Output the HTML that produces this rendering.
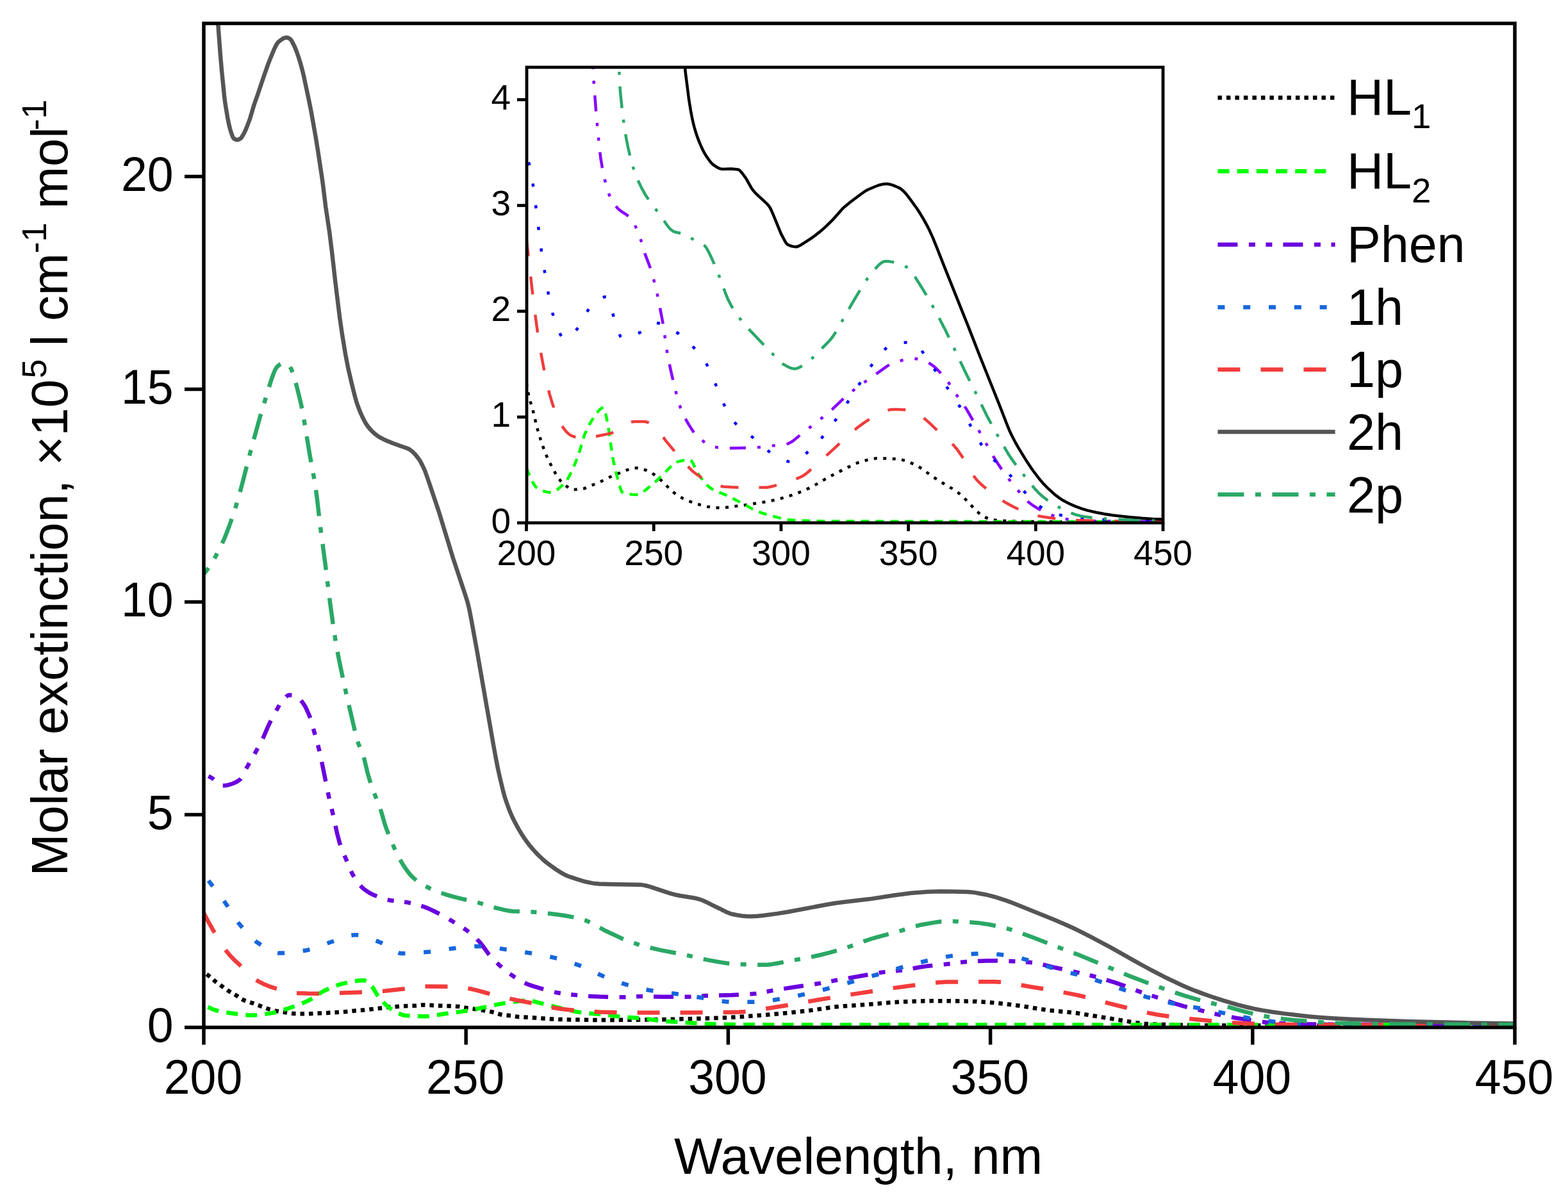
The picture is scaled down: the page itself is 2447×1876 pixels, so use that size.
<!DOCTYPE html>
<html><head><meta charset="utf-8"><title>Molar extinction spectra</title><style>html,body{margin:0;padding:0;background:#fff;}svg{display:block;}</style></head><body>
<svg width="2447" height="1876" viewBox="0 0 2447 1876">
<rect width="2447" height="1876" fill="#ffffff"/>
<defs><clipPath id="cm"><rect x="318" y="36.5" width="2046" height="1567.0"/></clipPath><clipPath id="ci"><rect x="822" y="105" width="993" height="711"/></clipPath></defs>
<g clip-path="url(#cm)" fill="none" stroke-linejoin="round">
<path d="M318.0,1517.0 L325.2,1522.5 L336.0,1531.8 L355.0,1545.4 L359.8,1548.5 L369.8,1554.2 L377.0,1559.1 L380.2,1560.9 L384.2,1562.4 L395.2,1565.9 L416.5,1574.0 L424.0,1576.2 L430.0,1577.7 L435.8,1578.7 L453.8,1581.5 L459.2,1582.0 L471.8,1582.3 L481.5,1582.2 L509.8,1580.9 L524.8,1580.1 L539.5,1579.0 L554.0,1577.5 L569.0,1576.3 L609.5,1571.6 L628.2,1570.4 L649.2,1569.5 L658.8,1568.6 L663.2,1568.5 L687.0,1569.7 L705.5,1570.2 L716.8,1571.1 L729.2,1573.3 L744.0,1575.2 L766.8,1579.2 L771.8,1580.3 L781.0,1583.3 L784.8,1584.0 L797.2,1585.2 L809.5,1587.1 L829.5,1588.1 L861.0,1590.4 L871.8,1590.9 L889.8,1591.4 L931.5,1592.0 L980.5,1591.8 L1033.0,1591.2 L1106.5,1589.3 L1133.0,1588.3 L1151.5,1587.3 L1199.2,1583.6 L1233.8,1580.4 L1264.2,1577.0 L1301.2,1571.7 L1317.5,1570.2 L1352.2,1567.9 L1388.2,1564.8 L1404.0,1563.8 L1428.8,1562.8 L1445.5,1562.3 L1458.5,1562.1 L1480.0,1562.2 L1512.8,1562.7 L1523.8,1563.1 L1544.8,1564.5 L1567.0,1566.6 L1597.2,1570.5 L1623.5,1574.9 L1633.2,1576.3 L1644.2,1577.6 L1670.0,1580.0 L1683.0,1581.6 L1775.5,1596.6 L1786.2,1597.7 L1803.5,1598.7 L1851.2,1600.0 L1893.5,1600.5 L2364.0,1600.5" stroke="#000000" stroke-width="6.5" stroke-dasharray="6.5 7" stroke-dashoffset="7.75"/>
<path d="M318.0,1569.0 L325.2,1572.0 L333.0,1575.6 L335.5,1576.4 L339.5,1577.5 L346.0,1578.9 L353.0,1580.2 L377.8,1583.6 L388.0,1584.5 L397.2,1584.5 L407.8,1583.5 L422.8,1581.4 L430.8,1579.7 L440.5,1576.9 L460.0,1570.4 L473.0,1565.4 L480.5,1562.0 L484.5,1559.9 L489.0,1557.1 L500.0,1549.7 L505.5,1546.5 L515.8,1541.8 L525.0,1538.2 L534.2,1535.4 L550.0,1531.9 L559.2,1530.5 L567.2,1530.0 L569.5,1530.4 L571.8,1531.4 L575.0,1533.5 L578.0,1535.9 L580.8,1539.5 L587.0,1550.2 L589.5,1553.9 L595.8,1561.3 L600.5,1566.5 L604.8,1570.6 L608.8,1573.8 L614.8,1577.5 L620.0,1580.4 L624.2,1582.4 L628.2,1584.0 L631.0,1584.7 L633.8,1585.1 L647.8,1585.9 L665.0,1586.2 L669.8,1585.9 L675.2,1585.3 L693.5,1582.3 L718.0,1579.1 L731.2,1577.0 L759.2,1571.5 L778.5,1567.2 L787.0,1565.6 L810.0,1562.4 L817.5,1561.7 L824.2,1561.5 L827.5,1561.7 L831.0,1562.4 L840.5,1564.9 L876.8,1574.0 L897.5,1578.7 L908.5,1580.6 L916.2,1581.3 L940.0,1583.1 L963.0,1586.2 L970.5,1587.1 L1004.2,1589.5 L1028.5,1592.9 L1037.5,1593.8 L1092.0,1597.4 L1123.5,1598.6 L1162.5,1599.2 L1198.5,1599.4 L2364.0,1599.5" stroke="#00ff00" stroke-width="6.5" stroke-dasharray="18 12.2" stroke-dashoffset="23.2"/>
<path d="M318.0,1208.0 L324.2,1210.8 L330.0,1213.8 L333.2,1216.1 L342.0,1223.4 L344.8,1225.0 L347.2,1225.9 L349.5,1226.0 L353.0,1225.7 L356.2,1225.1 L359.5,1224.2 L363.0,1223.0 L366.5,1221.5 L370.8,1219.3 L373.5,1217.6 L375.5,1215.5 L377.8,1212.0 L384.5,1199.1 L394.5,1181.8 L405.0,1162.8 L410.5,1152.0 L419.0,1132.3 L423.2,1123.5 L429.8,1111.4 L436.2,1100.2 L439.0,1095.8 L441.2,1092.8 L445.8,1088.1 L448.0,1086.1 L450.0,1085.1 L451.0,1084.8 L452.2,1084.8 L456.8,1085.3 L460.5,1086.1 L463.0,1087.3 L465.8,1089.4 L469.0,1092.6 L471.8,1095.7 L474.2,1099.3 L476.8,1103.6 L479.2,1108.7 L482.2,1115.5 L484.5,1121.4 L495.2,1159.4 L498.5,1172.1 L502.2,1189.4 L512.8,1241.8 L519.8,1271.7 L526.2,1301.2 L529.8,1314.7 L531.8,1320.8 L534.0,1326.7 L540.0,1340.8 L546.0,1355.6 L548.8,1361.7 L551.0,1366.0 L555.2,1372.8 L558.8,1377.8 L562.2,1382.1 L564.8,1384.8 L567.2,1387.0 L571.2,1390.0 L575.2,1392.6 L579.0,1394.8 L583.0,1396.7 L593.2,1400.9 L601.0,1403.4 L608.0,1405.0 L615.0,1406.1 L629.5,1407.6 L635.8,1408.4 L643.2,1409.9 L651.2,1411.9 L660.5,1414.8 L667.8,1417.6 L677.2,1422.0 L689.2,1428.0 L698.8,1433.5 L721.0,1447.0 L728.5,1452.1 L735.8,1457.9 L742.8,1464.3 L749.2,1471.1 L752.5,1475.2 L762.0,1488.4 L767.0,1494.1 L772.5,1499.8 L779.2,1506.3 L786.5,1512.6 L794.0,1518.6 L800.8,1523.4 L808.0,1528.0 L814.5,1531.8 L820.2,1534.7 L825.5,1536.9 L832.0,1539.1 L852.8,1545.3 L861.8,1547.6 L869.5,1549.3 L879.0,1550.9 L889.8,1552.2 L918.2,1554.7 L935.2,1555.6 L966.8,1556.3 L978.0,1556.2 L994.2,1555.2 L1000.8,1555.0 L1035.0,1555.7 L1078.8,1555.7 L1084.5,1555.4 L1101.5,1554.0 L1142.0,1553.1 L1168.2,1551.7 L1179.5,1550.8 L1184.0,1550.3 L1189.8,1549.2 L1203.0,1546.4 L1213.2,1544.7 L1243.5,1540.0 L1279.0,1534.8 L1309.8,1529.0 L1343.5,1523.3 L1371.5,1518.2 L1382.0,1516.8 L1401.2,1515.1 L1409.2,1514.1 L1417.8,1512.8 L1436.8,1509.3 L1445.0,1508.1 L1481.8,1504.2 L1500.5,1501.8 L1508.8,1501.0 L1527.2,1500.0 L1541.0,1499.5 L1553.8,1499.4 L1569.5,1499.8 L1586.5,1500.5 L1595.5,1501.0 L1608.0,1502.1 L1617.0,1503.3 L1625.2,1504.9 L1647.2,1510.3 L1676.8,1516.6 L1692.0,1520.1 L1704.5,1523.2 L1715.8,1526.2 L1728.2,1529.9 L1740.5,1533.7 L1754.0,1538.3 L1774.8,1546.4 L1782.8,1549.3 L1811.0,1558.3 L1836.5,1567.2 L1848.0,1570.6 L1895.2,1582.2 L1906.5,1584.7 L1930.0,1589.0 L1969.0,1594.9 L1979.8,1596.0 L2001.2,1597.2 L2023.8,1598.0 L2045.2,1598.5 L2195.0,1599.2 L2364.0,1599.5" stroke="#6a00de" stroke-width="6.5" stroke-dasharray="31 17.5 10 16.5 10 17" stroke-dashoffset="67"/>
<path d="M318.0,1365.0 L336.5,1388.7 L349.8,1406.5 L355.5,1414.9 L367.2,1433.4 L372.0,1440.3 L380.2,1450.3 L388.0,1459.0 L393.8,1464.7 L399.2,1469.3 L402.5,1471.6 L414.0,1479.0 L420.0,1482.4 L425.0,1484.8 L429.8,1486.5 L434.2,1487.4 L436.8,1487.5 L442.8,1487.4 L454.0,1486.5 L468.0,1484.7 L477.8,1483.2 L481.5,1482.4 L486.5,1481.1 L492.0,1479.3 L509.0,1472.8 L520.2,1469.0 L538.8,1462.1 L546.5,1460.0 L550.0,1459.5 L553.2,1459.2 L556.8,1459.3 L560.5,1459.7 L564.2,1460.4 L568.5,1461.5 L576.5,1464.1 L593.2,1470.7 L596.2,1472.0 L599.8,1473.9 L612.2,1482.1 L617.2,1485.0 L622.2,1487.2 L624.5,1487.8 L626.8,1488.1 L633.8,1488.1 L643.2,1487.7 L670.2,1485.4 L679.5,1484.3 L704.2,1480.6 L733.8,1477.5 L741.2,1477.0 L748.0,1476.9 L754.0,1477.1 L760.8,1477.7 L806.0,1484.1 L829.2,1487.8 L854.8,1492.5 L865.5,1494.9 L875.0,1497.3 L891.2,1502.2 L908.5,1508.3 L917.2,1512.1 L934.0,1520.2 L941.0,1523.4 L951.2,1527.5 L962.5,1531.8 L971.5,1534.9 L979.8,1537.4 L991.2,1540.5 L1002.0,1543.1 L1012.2,1545.2 L1022.0,1546.9 L1031.2,1548.2 L1054.0,1550.9 L1064.5,1552.4 L1104.5,1558.8 L1125.2,1562.4 L1133.8,1563.4 L1141.0,1563.7 L1180.2,1563.7 L1187.8,1563.4 L1194.0,1562.8 L1201.2,1561.8 L1230.0,1557.2 L1243.5,1554.4 L1265.5,1549.5 L1279.8,1546.1 L1296.2,1541.8 L1309.2,1538.2 L1338.0,1529.8 L1376.5,1519.0 L1411.8,1508.3 L1431.2,1503.1 L1448.5,1499.1 L1476.5,1493.4 L1485.0,1491.9 L1492.5,1490.9 L1510.5,1489.3 L1523.0,1488.5 L1534.0,1488.2 L1544.8,1488.5 L1558.0,1489.6 L1575.5,1491.7 L1583.8,1493.2 L1593.2,1495.6 L1618.0,1502.7 L1642.0,1510.7 L1651.2,1513.6 L1661.0,1516.2 L1684.0,1521.7 L1695.8,1525.0 L1713.5,1530.8 L1765.2,1548.8 L1788.5,1555.8 L1809.0,1561.2 L1823.2,1564.5 L1837.5,1567.5 L1848.8,1569.6 L1883.5,1575.5 L1916.2,1582.6 L1943.5,1588.0 L1957.0,1590.4 L1975.0,1593.0 L1990.2,1594.9 L2003.2,1596.0 L2032.0,1597.7 L2054.8,1598.4 L2196.0,1599.2 L2364.0,1599.5" stroke="#1666dd" stroke-width="6.5" stroke-dasharray="11 28.8" stroke-dashoffset="27.8"/>
<path d="M318.0,1425.0 L326.0,1440.2 L333.5,1453.4 L345.2,1472.8 L349.2,1478.9 L353.0,1484.1 L358.5,1490.7 L364.8,1497.3 L394.0,1524.8 L399.0,1528.9 L403.2,1531.6 L411.2,1535.7 L419.8,1539.3 L428.5,1542.2 L445.0,1546.9 L453.2,1548.8 L460.5,1549.8 L480.0,1550.6 L498.0,1550.8 L512.2,1550.5 L554.0,1548.9 L585.5,1547.6 L601.5,1546.6 L631.2,1543.2 L649.8,1540.6 L658.2,1539.8 L663.5,1539.6 L702.8,1539.7 L709.5,1540.2 L717.2,1541.0 L731.5,1542.9 L736.5,1543.8 L744.2,1545.6 L762.0,1550.5 L792.0,1557.8 L805.2,1560.7 L832.2,1566.0 L863.2,1572.7 L875.8,1574.7 L899.0,1577.1 L918.0,1578.6 L935.5,1579.5 L957.8,1580.1 L987.5,1580.6 L1040.2,1580.6 L1113.2,1580.2 L1146.0,1579.8 L1153.5,1579.6 L1161.5,1579.0 L1170.0,1578.1 L1179.5,1576.8 L1228.2,1569.0 L1279.5,1560.0 L1333.0,1551.4 L1392.5,1542.3 L1450.5,1534.6 L1464.8,1533.2 L1477.2,1532.5 L1517.8,1532.3 L1551.5,1532.2 L1557.8,1532.5 L1564.5,1533.1 L1579.8,1535.1 L1609.0,1540.2 L1642.2,1545.6 L1671.5,1551.1 L1684.2,1553.8 L1695.0,1556.3 L1738.2,1567.9 L1775.8,1577.2 L1792.0,1580.9 L1805.5,1583.5 L1824.2,1586.3 L1846.8,1589.1 L1870.5,1591.5 L1911.8,1595.3 L1929.2,1596.6 L1944.5,1597.4 L1981.5,1598.6 L2011.5,1599.1 L2170.5,1599.6 L2364.0,1599.8" stroke="#f23c3c" stroke-width="6.5" stroke-dasharray="35 32"/>
<path d="M333.5,-60.0 L337.8,3.8 L343.8,84.6 L346.0,110.0 L350.0,149.7 L351.2,159.6 L352.8,169.5 L355.2,183.8 L357.2,193.9 L359.0,201.1 L360.8,207.1 L363.2,213.6 L364.8,216.2 L367.5,217.7 L370.0,218.2 L372.2,217.8 L375.2,216.3 L376.5,215.1 L378.0,212.8 L380.8,208.0 L382.8,203.9 L386.0,196.2 L389.8,186.1 L396.5,163.5 L402.2,147.5 L411.5,119.7 L418.2,100.7 L422.0,90.9 L428.2,76.1 L430.8,70.8 L432.8,67.5 L434.2,65.7 L437.8,62.8 L440.5,60.9 L442.8,59.6 L444.8,58.9 L446.8,58.6 L448.5,58.8 L450.2,59.4 L453.2,61.1 L455.2,63.8 L459.8,72.8 L463.0,80.8 L466.0,89.5 L468.8,98.3 L471.5,108.3 L474.0,118.6 L481.5,153.8 L484.8,169.9 L487.5,184.6 L492.8,214.7 L496.0,234.6 L502.0,273.9 L504.0,288.3 L508.2,322.5 L514.2,362.4 L518.2,394.8 L523.5,441.5 L530.2,495.8 L534.0,522.0 L539.0,552.3 L543.2,574.2 L548.8,598.2 L553.5,617.2 L556.5,628.0 L558.5,633.8 L562.2,643.3 L565.5,650.5 L568.5,656.5 L571.2,661.3 L574.0,665.4 L577.2,669.4 L581.0,673.4 L584.8,676.9 L588.8,680.0 L593.0,682.7 L598.0,685.4 L603.8,688.0 L613.0,691.8 L624.8,696.0 L635.0,699.5 L638.8,701.3 L641.2,702.9 L644.0,705.2 L646.8,708.0 L650.0,711.7 L653.5,716.3 L655.8,719.8 L658.0,723.9 L662.8,733.9 L665.2,740.5 L670.5,755.8 L684.8,798.4 L707.0,871.0 L726.2,928.8 L728.8,936.9 L730.8,944.3 L732.8,953.2 L735.5,967.1 L744.5,1016.4 L769.8,1161.3 L773.5,1181.7 L777.2,1200.5 L781.0,1217.4 L784.8,1233.1 L788.0,1244.8 L790.8,1253.1 L793.5,1260.7 L796.2,1267.6 L799.2,1274.5 L802.5,1281.2 L806.5,1288.8 L810.5,1295.9 L814.5,1302.5 L818.5,1308.6 L822.5,1314.2 L826.5,1319.4 L831.5,1325.3 L836.5,1330.9 L841.5,1336.0 L846.5,1340.7 L851.2,1344.8 L859.5,1351.1 L867.8,1357.0 L874.5,1361.3 L880.8,1364.8 L885.2,1367.0 L889.8,1368.7 L901.0,1372.4 L910.0,1375.1 L916.8,1376.8 L923.2,1378.1 L929.2,1379.1 L935.0,1379.6 L949.8,1380.1 L995.5,1380.8 L1002.0,1381.1 L1007.2,1382.0 L1014.2,1383.9 L1046.0,1394.3 L1052.8,1396.2 L1061.5,1398.0 L1082.0,1401.3 L1087.2,1402.4 L1091.5,1403.5 L1095.8,1405.0 L1100.8,1407.2 L1114.2,1413.9 L1122.2,1417.7 L1132.5,1422.9 L1138.8,1425.6 L1143.0,1426.8 L1150.2,1428.2 L1157.8,1429.4 L1164.2,1430.1 L1172.2,1430.3 L1182.0,1429.7 L1191.8,1428.7 L1213.0,1425.9 L1229.5,1423.2 L1287.8,1412.3 L1302.2,1409.8 L1317.5,1407.7 L1357.8,1403.1 L1395.8,1397.3 L1422.5,1393.7 L1448.8,1391.8 L1458.8,1391.4 L1467.5,1391.2 L1488.2,1391.4 L1510.0,1391.9 L1516.0,1392.4 L1523.0,1393.4 L1538.0,1396.2 L1545.0,1397.8 L1555.2,1400.7 L1568.2,1404.8 L1577.2,1408.1 L1599.0,1416.7 L1646.0,1435.8 L1662.2,1442.7 L1674.5,1448.3 L1685.5,1453.6 L1702.2,1462.2 L1733.2,1478.6 L1769.5,1499.2 L1797.5,1514.5 L1820.5,1526.3 L1843.0,1537.0 L1853.8,1541.7 L1865.5,1546.4 L1878.0,1551.1 L1891.2,1555.7 L1907.0,1560.9 L1921.0,1565.2 L1933.2,1568.7 L1946.5,1572.0 L1958.5,1574.7 L1970.2,1576.9 L1986.2,1579.5 L2003.5,1581.9 L2025.8,1584.6 L2045.2,1586.7 L2061.0,1588.1 L2079.0,1589.3 L2102.8,1590.6 L2130.5,1591.8 L2200.8,1594.3 L2291.5,1596.4 L2364.0,1597.4" stroke="#555555" stroke-width="6.5"/>
<path d="M318.0,895.9 L323.2,889.5 L328.8,881.5 L334.5,871.9 L340.8,860.2 L346.5,848.6 L350.8,839.0 L355.5,827.0 L360.8,812.5 L368.2,790.0 L373.2,773.1 L378.2,754.4 L391.2,703.7 L406.5,648.2 L422.0,597.3 L424.5,589.6 L426.8,583.4 L428.5,579.2 L430.2,575.7 L431.8,573.3 L433.2,571.6 L437.2,568.6 L440.2,567.1 L443.0,566.4 L444.0,566.4 L445.2,566.7 L446.8,567.5 L448.5,568.7 L452.2,572.1 L454.5,575.9 L457.0,582.0 L460.0,591.4 L463.2,603.5 L469.5,629.2 L472.0,641.2 L475.2,659.7 L483.0,707.5 L490.0,745.7 L493.2,766.0 L495.0,779.7 L499.8,821.5 L507.8,881.8 L514.8,938.6 L519.8,974.7 L524.0,1002.4 L528.8,1028.4 L537.5,1069.9 L543.8,1097.8 L556.5,1152.0 L557.8,1156.3 L559.2,1160.5 L564.8,1173.2 L567.0,1179.3 L569.2,1187.5 L574.0,1207.7 L576.8,1217.2 L579.8,1226.3 L583.5,1236.7 L590.5,1253.9 L593.0,1260.6 L595.2,1267.7 L600.5,1285.9 L602.5,1292.1 L608.5,1307.7 L618.5,1330.7 L622.8,1339.2 L629.0,1349.6 L634.8,1358.2 L640.0,1364.9 L644.2,1369.3 L650.5,1374.6 L656.8,1378.9 L664.2,1383.2 L671.8,1387.0 L679.5,1390.4 L688.0,1393.5 L697.5,1396.6 L708.0,1399.6 L722.0,1403.1 L745.5,1408.5 L766.8,1415.2 L788.0,1420.4 L794.2,1421.5 L800.0,1422.2 L830.2,1423.2 L841.0,1424.0 L853.0,1425.3 L870.8,1427.5 L882.8,1429.3 L894.2,1431.4 L905.0,1433.9 L912.5,1436.0 L919.2,1438.8 L926.0,1442.2 L945.0,1452.8 L969.8,1464.4 L982.5,1469.5 L997.0,1474.3 L1013.2,1478.8 L1030.8,1482.9 L1067.8,1489.9 L1095.5,1496.4 L1105.0,1498.4 L1126.0,1502.1 L1137.2,1503.7 L1144.2,1504.5 L1150.5,1504.9 L1171.2,1505.5 L1189.2,1505.8 L1194.5,1505.8 L1199.2,1505.5 L1204.5,1504.9 L1210.2,1504.0 L1230.5,1500.1 L1251.0,1496.4 L1265.5,1493.6 L1280.0,1490.5 L1294.2,1486.9 L1308.0,1483.0 L1321.2,1479.0 L1329.5,1476.1 L1349.0,1468.8 L1359.0,1465.5 L1370.8,1462.1 L1400.5,1454.3 L1424.8,1446.6 L1435.5,1443.8 L1459.0,1439.6 L1466.8,1438.5 L1473.8,1437.9 L1480.0,1437.7 L1489.8,1437.9 L1499.8,1438.3 L1511.8,1439.2 L1528.2,1440.6 L1542.8,1442.8 L1553.8,1445.0 L1567.2,1448.0 L1573.0,1449.5 L1579.2,1451.4 L1589.0,1454.7 L1612.5,1463.3 L1646.8,1476.6 L1681.5,1489.6 L1696.5,1495.7 L1746.2,1516.6 L1762.5,1523.2 L1790.0,1533.7 L1820.2,1544.6 L1850.5,1554.6 L1875.5,1561.9 L1887.5,1565.0 L1912.8,1570.6 L1942.0,1578.8 L1957.2,1582.7 L1966.2,1584.7 L1978.5,1586.8 L1991.2,1588.7 L2004.0,1590.4 L2018.0,1591.9 L2048.5,1594.5 L2071.8,1596.0 L2086.5,1596.8 L2131.5,1597.8 L2181.8,1598.4 L2277.0,1598.8 L2364.0,1599.0" stroke="#2aa865" stroke-width="6.5" stroke-dasharray="41 17.5 9 17.5" stroke-dashoffset="29"/>
</g>
<g stroke="#000" stroke-width="5.5" fill="none">
<rect x="318" y="36.5" width="2046" height="1567.0"/>
<line x1="288" y1="1603.5" x2="318" y2="1603.5"/>
<line x1="288" y1="1271.5" x2="318" y2="1271.5"/>
<line x1="288" y1="939.5" x2="318" y2="939.5"/>
<line x1="288" y1="607.5" x2="318" y2="607.5"/>
<line x1="288" y1="275.5" x2="318" y2="275.5"/>
<line x1="318.0" y1="1603.5" x2="318.0" y2="1630.5"/>
<line x1="727.2" y1="1603.5" x2="727.2" y2="1630.5"/>
<line x1="1136.4" y1="1603.5" x2="1136.4" y2="1630.5"/>
<line x1="1545.6" y1="1603.5" x2="1545.6" y2="1630.5"/>
<line x1="1954.8" y1="1603.5" x2="1954.8" y2="1630.5"/>
<line x1="2364.0" y1="1603.5" x2="2364.0" y2="1630.5"/>
</g>
<g font-family="'Liberation Sans', Arial, Helvetica, sans-serif" font-size="76" fill="#000">
<text transform="translate(270.5,1625.5) scale(0.965,1)" text-anchor="end">0</text>
<text transform="translate(270.5,1293.5) scale(0.965,1)" text-anchor="end">5</text>
<text transform="translate(270.5,961.5) scale(0.965,1)" text-anchor="end">10</text>
<text transform="translate(270.5,629.5) scale(0.965,1)" text-anchor="end">15</text>
<text transform="translate(270.5,297.5) scale(0.965,1)" text-anchor="end">20</text>
<text transform="translate(317.0,1707) scale(0.965,1)" text-anchor="middle">200</text>
<text transform="translate(726.2,1707) scale(0.965,1)" text-anchor="middle">250</text>
<text transform="translate(1135.4,1707) scale(0.965,1)" text-anchor="middle">300</text>
<text transform="translate(1544.6,1707) scale(0.965,1)" text-anchor="middle">350</text>
<text transform="translate(1953.8,1707) scale(0.965,1)" text-anchor="middle">400</text>
<text transform="translate(2363.0,1707) scale(0.965,1)" text-anchor="middle">450</text>
</g>
<rect x="822" y="105" width="993" height="711" fill="#fff"/>
<g clip-path="url(#ci)" fill="none" stroke-linejoin="round">
<path d="M821.5,598.0 L823.2,606.8 L825.5,620.0 L826.8,624.6 L829.5,632.6 L830.8,637.0 L836.8,662.0 L839.0,670.6 L843.5,685.5 L849.0,701.8 L851.8,708.9 L854.8,715.6 L859.0,724.2 L868.0,741.1 L870.8,745.5 L875.2,751.0 L880.0,755.6 L888.0,761.9 L890.2,763.2 L892.2,763.9 L897.0,763.9 L905.0,763.5 L908.8,763.1 L911.8,762.3 L933.2,753.5 L938.0,751.4 L950.2,745.2 L974.8,734.8 L983.5,731.8 L987.2,730.7 L990.5,730.3 L994.5,730.5 L1000.5,731.7 L1008.5,734.0 L1013.8,736.4 L1020.5,740.4 L1025.2,744.0 L1032.5,750.4 L1043.0,760.9 L1049.2,766.8 L1052.8,769.8 L1056.8,772.7 L1061.2,775.4 L1066.0,778.0 L1071.2,780.5 L1078.0,783.2 L1086.5,786.2 L1097.0,789.1 L1103.8,790.7 L1112.8,791.9 L1119.0,792.4 L1125.2,792.4 L1132.8,791.9 L1163.0,788.2 L1189.0,784.2 L1199.8,782.3 L1209.2,780.3 L1217.5,778.2 L1226.0,775.9 L1236.2,772.6 L1244.8,769.6 L1253.8,765.9 L1263.2,761.6 L1270.5,757.9 L1288.0,747.6 L1304.8,738.6 L1328.8,726.6 L1338.0,722.5 L1341.8,721.3 L1354.2,717.7 L1359.8,716.5 L1364.5,715.7 L1368.2,715.3 L1371.8,715.2 L1389.0,715.7 L1402.0,716.6 L1405.8,717.2 L1409.5,718.1 L1414.8,719.8 L1420.5,722.0 L1429.5,726.0 L1433.0,727.9 L1442.8,734.5 L1451.8,741.3 L1456.5,744.6 L1476.5,757.3 L1487.8,763.6 L1492.2,766.5 L1497.8,770.9 L1504.8,777.3 L1509.0,781.6 L1522.2,795.9 L1524.8,798.3 L1528.8,801.7 L1532.8,804.7 L1536.0,806.6 L1542.5,809.5 L1547.2,811.1 L1549.5,811.5 L1554.2,811.9 L1568.5,813.0 L1581.5,813.6 L1595.0,814.0 L1693.8,814.4 L1815.0,814.5" stroke="#000000" stroke-width="4.5" stroke-dasharray="5 9.5"/>
<path d="M821.5,730.0 L824.0,736.6 L831.2,752.2 L833.0,755.4 L834.8,758.1 L836.2,760.0 L837.8,761.3 L843.0,764.2 L848.0,766.4 L852.8,767.8 L857.2,768.5 L860.5,768.5 L863.5,767.8 L866.8,766.3 L870.5,763.7 L876.0,758.9 L883.2,751.3 L886.5,746.5 L890.5,738.9 L896.5,725.9 L901.2,713.7 L905.2,702.1 L910.0,685.4 L912.2,678.6 L916.0,670.0 L920.0,662.1 L924.2,655.2 L931.2,645.1 L934.2,641.1 L936.2,639.0 L938.2,637.4 L940.0,636.5 L941.8,636.2 L942.2,636.6 L942.8,637.3 L943.8,639.9 L946.0,649.2 L949.5,667.5 L955.2,707.6 L957.0,718.0 L960.5,734.3 L966.5,756.7 L969.0,764.4 L970.0,766.6 L971.0,768.0 L971.8,768.6 L973.8,769.3 L979.8,770.8 L986.5,771.8 L993.2,772.1 L996.5,771.5 L1000.2,769.9 L1003.0,768.2 L1006.2,765.8 L1021.2,753.5 L1038.8,736.5 L1048.0,726.8 L1050.2,724.8 L1052.5,723.0 L1054.2,721.9 L1056.0,721.2 L1063.5,719.1 L1070.5,717.9 L1076.5,717.5 L1077.2,717.7 L1078.2,718.4 L1080.2,721.0 L1082.5,725.2 L1088.5,738.0 L1090.0,740.4 L1094.0,745.8 L1099.0,752.1 L1103.2,756.9 L1107.0,760.3 L1110.8,762.9 L1117.2,766.3 L1132.8,772.7 L1145.5,778.9 L1160.2,786.5 L1175.0,794.9 L1180.8,797.6 L1190.0,801.0 L1200.2,804.1 L1221.0,809.4 L1226.0,810.5 L1230.2,811.2 L1239.5,811.9 L1260.5,812.8 L1278.5,813.3 L1297.0,813.5 L1527.8,813.9 L1815.0,814.0" stroke="#00ff00" stroke-width="4.5" stroke-dasharray="13 10"/>
<path d="M923.5,60.0 L925.2,103.1 L926.8,129.9 L930.8,182.0 L935.8,234.1 L937.5,247.5 L939.8,261.0 L943.5,279.2 L946.8,292.7 L949.2,300.6 L952.5,308.0 L956.2,314.9 L960.5,321.1 L964.0,325.2 L967.2,328.1 L970.5,330.5 L977.8,335.2 L981.2,337.9 L984.5,341.1 L987.0,344.4 L989.5,348.7 L992.2,354.4 L995.2,361.6 L998.8,370.7 L1000.8,376.6 L1006.2,395.3 L1013.8,415.4 L1016.5,423.6 L1020.5,437.5 L1024.2,452.6 L1026.8,464.1 L1034.8,505.7 L1036.5,516.9 L1040.0,543.1 L1043.0,559.9 L1046.5,576.8 L1050.0,592.3 L1055.8,615.8 L1059.0,627.7 L1062.2,637.1 L1066.0,646.1 L1069.5,653.2 L1075.0,662.9 L1079.8,670.4 L1084.2,676.5 L1088.0,680.6 L1093.2,685.2 L1098.2,689.2 L1102.8,692.4 L1106.8,694.8 L1110.5,696.5 L1113.0,697.3 L1115.5,697.8 L1123.8,698.7 L1131.0,699.2 L1137.8,699.4 L1151.5,699.3 L1171.8,699.0 L1177.5,698.7 L1185.5,698.0 L1204.0,695.7 L1221.0,694.1 L1227.5,693.1 L1230.2,692.3 L1234.2,690.3 L1239.0,687.1 L1252.5,675.8 L1269.2,663.1 L1285.2,650.3 L1299.0,638.6 L1318.0,620.5 L1322.2,616.8 L1328.0,612.1 L1336.5,605.7 L1354.5,592.6 L1370.2,581.6 L1384.2,571.6 L1389.2,568.6 L1393.5,566.6 L1402.2,563.9 L1409.5,561.9 L1416.0,560.6 L1421.8,559.9 L1426.8,559.7 L1431.2,560.2 L1436.5,561.5 L1442.8,563.7 L1449.8,566.7 L1454.0,569.3 L1458.5,572.8 L1463.2,577.2 L1469.2,583.5 L1476.0,591.2 L1480.8,597.9 L1491.2,614.2 L1502.5,629.8 L1508.0,638.2 L1534.5,684.0 L1549.2,710.7 L1556.5,722.5 L1563.8,733.4 L1570.0,742.2 L1576.8,750.9 L1598.2,776.9 L1601.5,780.4 L1604.5,783.2 L1608.8,786.5 L1613.2,789.7 L1619.2,793.4 L1625.8,796.9 L1637.8,802.4 L1645.5,805.7 L1650.8,807.5 L1655.8,808.9 L1659.5,809.6 L1668.0,810.7 L1683.8,812.2 L1698.8,813.0 L1755.5,813.7 L1815.0,814.0" stroke="#8800ff" stroke-width="4.5" stroke-dasharray="25 18 5 18 5 18"/>
<path d="M821.5,246.0 L822.5,247.4 L823.8,250.0 L826.2,257.2 L828.0,265.0 L830.0,276.3 L833.2,298.0 L843.5,381.1 L845.5,396.0 L854.0,448.8 L858.0,469.8 L860.5,481.6 L862.8,490.6 L864.0,494.7 L869.0,509.0 L872.0,516.8 L874.5,522.1 L876.8,525.7 L878.0,527.0 L879.0,527.8 L879.8,528.1 L880.8,528.2 L883.8,527.7 L886.5,526.5 L889.5,524.6 L892.5,522.1 L895.8,519.0 L905.2,508.3 L907.2,505.5 L909.2,501.8 L917.8,483.8 L919.8,480.4 L921.8,477.9 L929.0,471.5 L934.8,467.2 L937.2,465.7 L939.8,464.6 L942.2,463.7 L944.5,463.3 L946.2,463.2 L947.2,463.7 L948.5,465.4 L949.8,468.2 L951.8,474.1 L956.2,489.6 L959.8,499.8 L965.5,518.5 L967.0,522.4 L968.2,525.1 L969.5,526.9 L970.5,527.7 L972.0,527.8 L975.2,527.5 L981.2,526.1 L987.2,523.9 L998.5,519.1 L1000.8,517.8 L1003.2,516.1 L1011.5,509.4 L1014.8,507.0 L1017.8,505.2 L1020.5,504.2 L1022.2,503.9 L1024.5,504.0 L1029.5,504.8 L1034.8,506.6 L1040.8,509.5 L1046.8,513.0 L1059.2,520.9 L1063.8,524.2 L1068.5,528.2 L1076.0,535.4 L1085.2,545.1 L1091.5,552.4 L1097.0,559.6 L1103.2,569.2 L1107.0,576.5 L1118.5,604.0 L1126.0,622.7 L1130.2,632.0 L1136.0,642.7 L1141.0,651.3 L1145.5,657.9 L1149.8,663.2 L1153.8,667.2 L1158.5,671.2 L1172.8,681.2 L1177.8,685.0 L1182.8,689.3 L1196.2,701.5 L1200.2,704.8 L1204.0,707.6 L1207.2,709.6 L1215.8,714.2 L1223.2,717.9 L1226.5,719.2 L1229.5,720.1 L1232.2,720.6 L1235.0,720.8 L1238.8,720.4 L1242.8,719.0 L1247.0,716.7 L1251.5,713.4 L1257.0,708.7 L1272.8,694.1 L1277.8,688.8 L1283.2,682.5 L1292.2,671.4 L1297.0,665.2 L1303.5,656.2 L1313.2,642.2 L1326.2,622.7 L1345.8,592.0 L1358.2,572.9 L1362.5,566.7 L1368.0,559.6 L1378.5,547.9 L1382.8,543.5 L1386.2,540.4 L1389.2,538.2 L1392.0,536.7 L1394.8,535.9 L1403.0,535.2 L1413.2,534.6 L1425.2,534.4 L1427.0,534.7 L1428.8,535.5 L1430.8,537.0 L1433.0,539.3 L1435.2,542.2 L1438.2,546.7 L1446.5,559.8 L1455.0,571.5 L1488.2,619.4 L1498.0,634.7 L1507.0,649.8 L1510.8,656.8 L1519.2,673.5 L1523.2,680.7 L1531.5,693.7 L1538.5,703.6 L1543.8,710.2 L1548.8,715.5 L1553.8,720.2 L1565.5,730.4 L1571.2,736.0 L1577.0,742.4 L1606.8,776.8 L1612.2,782.5 L1617.0,786.5 L1623.5,790.9 L1629.8,794.7 L1635.5,797.7 L1641.0,800.0 L1647.5,802.0 L1656.2,804.3 L1664.5,805.9 L1673.0,807.3 L1695.2,809.5 L1717.5,810.9 L1770.8,812.5 L1815.0,813.0" stroke="#0000ff" stroke-width="4.5" stroke-dasharray="5 29" stroke-dashoffset="26"/>
<path d="M821.5,372.0 L826.0,413.3 L831.8,463.4 L834.8,488.0 L837.5,508.2 L841.2,533.5 L844.8,554.5 L849.5,579.5 L853.8,599.6 L857.5,614.6 L862.2,630.3 L867.2,644.8 L871.8,655.7 L873.8,659.8 L875.8,663.2 L881.8,671.4 L884.2,674.2 L886.8,676.7 L889.2,678.6 L891.5,679.9 L896.2,681.7 L900.2,683.0 L903.8,683.7 L907.0,684.0 L910.2,683.9 L914.2,683.5 L932.8,680.5 L949.2,677.1 L954.2,675.8 L958.0,674.5 L963.0,671.9 L970.2,667.5 L975.0,664.8 L982.0,660.4 L984.2,659.2 L986.2,658.5 L989.2,658.0 L1006.0,658.0 L1008.5,658.4 L1011.8,659.6 L1015.2,661.8 L1022.8,667.4 L1025.8,670.3 L1030.2,675.7 L1040.0,689.1 L1048.8,699.6 L1057.2,709.6 L1070.2,724.4 L1077.8,732.4 L1082.2,736.5 L1087.8,740.7 L1093.8,744.9 L1099.5,748.3 L1104.5,750.8 L1117.5,756.5 L1123.2,758.4 L1128.5,759.5 L1141.0,760.3 L1153.8,760.7 L1196.5,760.7 L1201.2,760.0 L1206.5,758.8 L1235.8,749.9 L1241.5,747.9 L1246.8,745.7 L1252.0,743.2 L1255.0,741.5 L1258.5,738.9 L1262.5,735.5 L1273.2,725.5 L1286.5,714.0 L1299.0,702.7 L1318.5,684.3 L1333.2,671.3 L1339.8,666.1 L1348.0,660.2 L1355.2,655.4 L1361.8,651.7 L1379.8,642.5 L1384.5,640.6 L1388.8,639.4 L1392.5,639.0 L1400.2,639.1 L1410.8,639.4 L1420.8,640.1 L1422.5,640.4 L1424.5,641.1 L1428.8,643.3 L1432.8,646.1 L1444.2,654.6 L1450.5,660.1 L1465.5,674.5 L1481.5,688.4 L1487.8,694.5 L1491.2,698.4 L1493.8,701.5 L1501.0,711.9 L1507.0,721.2 L1516.5,737.9 L1520.8,744.6 L1524.8,749.5 L1530.2,755.0 L1536.2,760.2 L1550.0,770.9 L1556.8,776.0 L1562.5,780.1 L1568.0,783.6 L1575.5,787.8 L1582.5,791.5 L1589.0,794.5 L1595.0,797.0 L1606.8,801.3 L1613.5,803.5 L1619.5,805.1 L1627.5,806.5 L1640.8,808.5 L1651.8,809.9 L1662.0,810.9 L1678.5,812.0 L1724.0,813.1 L1769.8,813.8 L1815.0,814.0" stroke="#f03c3c" stroke-width="4.5" stroke-dasharray="28 32"/>
<path d="M1066.0,60.0 L1067.8,90.2 L1069.5,111.4 L1075.2,155.9 L1078.0,173.1 L1080.0,183.7 L1081.8,191.8 L1083.5,198.6 L1085.8,206.3 L1088.0,213.1 L1090.8,220.4 L1094.0,228.0 L1097.2,234.9 L1099.5,239.2 L1101.8,242.9 L1106.0,249.1 L1109.2,253.3 L1111.5,255.7 L1113.5,257.5 L1119.2,261.2 L1123.2,263.1 L1126.8,263.9 L1141.5,263.6 L1146.2,263.9 L1151.5,264.5 L1152.5,264.8 L1153.8,265.5 L1156.2,267.9 L1158.8,271.0 L1164.5,278.9 L1172.2,292.7 L1175.2,297.1 L1177.8,300.0 L1180.5,302.8 L1196.8,317.9 L1199.2,320.7 L1201.2,323.4 L1203.2,327.1 L1205.5,332.1 L1219.0,365.1 L1224.8,376.0 L1226.5,378.8 L1228.2,380.9 L1230.0,382.2 L1233.2,383.5 L1236.0,384.4 L1240.2,385.1 L1242.2,385.2 L1243.8,385.0 L1246.2,384.2 L1249.0,382.8 L1264.2,373.1 L1270.8,368.5 L1278.0,362.9 L1283.8,358.1 L1289.8,352.7 L1299.2,343.4 L1313.5,327.2 L1316.2,324.4 L1320.5,320.7 L1328.5,314.2 L1345.0,302.0 L1350.2,298.4 L1354.5,296.0 L1365.0,291.5 L1371.5,289.0 L1377.2,287.6 L1382.5,287.0 L1385.0,287.1 L1387.5,287.4 L1393.0,288.9 L1400.5,292.0 L1404.5,293.9 L1406.5,295.2 L1410.5,298.7 L1415.0,303.8 L1419.8,310.1 L1430.8,325.2 L1436.0,333.3 L1441.0,341.6 L1446.5,351.6 L1450.8,360.1 L1455.8,371.2 L1461.5,385.2 L1472.8,413.8 L1510.8,508.8 L1530.2,558.5 L1559.8,632.3 L1570.8,660.8 L1575.2,671.7 L1579.5,680.7 L1584.5,690.3 L1589.8,699.6 L1596.8,711.2 L1603.0,721.1 L1609.0,730.1 L1614.0,737.0 L1621.2,746.5 L1628.0,754.6 L1634.0,760.8 L1644.2,770.2 L1648.8,773.9 L1653.0,777.1 L1659.5,781.3 L1669.0,786.2 L1678.5,790.4 L1688.0,793.9 L1697.0,796.6 L1710.8,799.8 L1723.8,802.2 L1737.0,804.2 L1761.5,806.9 L1781.8,808.8 L1799.2,810.0 L1815.0,810.5" stroke="#000000" stroke-width="4.5"/>
<path d="M964.5,60.0 L966.5,116.8 L967.5,136.5 L968.5,148.0 L971.2,173.7 L973.0,187.9 L975.2,203.3 L977.5,216.9 L979.8,228.5 L983.0,242.8 L986.2,255.2 L989.0,264.1 L992.5,273.7 L996.2,282.8 L1000.5,291.9 L1006.5,302.9 L1012.8,312.5 L1017.5,319.0 L1028.8,333.6 L1041.0,351.4 L1044.0,355.2 L1046.8,358.1 L1049.5,360.3 L1052.2,361.7 L1056.0,362.7 L1065.5,364.6 L1068.0,365.3 L1070.2,366.3 L1073.5,368.2 L1083.2,374.5 L1092.5,378.9 L1095.5,380.5 L1099.0,383.0 L1101.2,385.3 L1103.2,388.3 L1105.5,392.5 L1111.0,403.8 L1114.5,411.6 L1123.2,433.2 L1132.0,457.2 L1136.0,467.1 L1140.8,476.3 L1146.5,485.8 L1150.8,492.0 L1155.8,498.7 L1160.8,505.0 L1165.8,510.8 L1200.2,546.8 L1219.0,565.8 L1221.0,567.5 L1223.0,568.8 L1228.5,571.9 L1232.0,573.6 L1234.5,574.5 L1236.8,575.1 L1239.0,575.5 L1241.0,575.5 L1242.8,575.2 L1244.8,574.6 L1249.0,572.6 L1253.5,569.7 L1263.8,562.4 L1267.2,559.4 L1271.0,555.8 L1283.2,543.1 L1292.0,534.3 L1296.0,530.0 L1299.5,525.5 L1302.5,521.1 L1305.8,515.8 L1331.2,471.2 L1348.2,442.7 L1351.5,437.8 L1354.2,434.1 L1365.8,419.8 L1370.2,414.8 L1373.5,411.7 L1376.5,409.6 L1379.2,408.3 L1382.0,407.8 L1388.0,408.1 L1394.5,409.3 L1401.2,411.2 L1408.5,413.9 L1414.8,416.7 L1416.8,417.9 L1419.8,420.7 L1423.0,424.7 L1427.0,430.6 L1442.5,455.3 L1448.2,465.1 L1455.8,478.3 L1466.2,497.5 L1476.5,517.5 L1506.0,579.7 L1523.2,614.2 L1539.2,647.1 L1552.5,672.0 L1569.8,702.1 L1574.2,709.5 L1578.5,715.9 L1583.8,723.4 L1589.5,731.2 L1611.5,758.8 L1616.8,764.9 L1621.5,769.9 L1627.0,774.8 L1634.8,780.8 L1642.0,785.7 L1649.2,790.0 L1660.2,795.5 L1670.8,800.3 L1678.8,803.3 L1685.8,805.2 L1693.0,806.5 L1703.0,807.8 L1713.2,808.8 L1724.5,809.6 L1753.2,811.2 L1775.8,812.2 L1796.2,812.8 L1815.0,813.0" stroke="#2aa86a" stroke-width="4.5" stroke-dasharray="34 18 5 18"/>
</g>
<g stroke="#000" stroke-width="4.8" fill="none">
<rect x="822" y="105" width="993" height="711"/>
<line x1="807" y1="816.0" x2="822" y2="816.0"/>
<line x1="807" y1="650.9" x2="822" y2="650.9"/>
<line x1="807" y1="485.8" x2="822" y2="485.8"/>
<line x1="807" y1="320.7" x2="822" y2="320.7"/>
<line x1="807" y1="155.6" x2="822" y2="155.6"/>
<line x1="821.5" y1="816" x2="821.5" y2="829"/>
<line x1="1020.2" y1="816" x2="1020.2" y2="829"/>
<line x1="1218.9" y1="816" x2="1218.9" y2="829"/>
<line x1="1417.6" y1="816" x2="1417.6" y2="829"/>
<line x1="1616.3" y1="816" x2="1616.3" y2="829"/>
<line x1="1815.0" y1="816" x2="1815.0" y2="829"/>
</g>
<g font-family="'Liberation Sans', Arial, Helvetica, sans-serif" font-size="55" fill="#000">
<text x="797" y="831.5" text-anchor="end">0</text>
<text x="797" y="666.4" text-anchor="end">1</text>
<text x="797" y="501.3" text-anchor="end">2</text>
<text x="797" y="336.2" text-anchor="end">3</text>
<text x="797" y="171.1" text-anchor="end">4</text>
<text x="821.5" y="882" text-anchor="middle">200</text>
<text x="1020.2" y="882" text-anchor="middle">250</text>
<text x="1218.9" y="882" text-anchor="middle">300</text>
<text x="1417.6" y="882" text-anchor="middle">350</text>
<text x="1616.3" y="882" text-anchor="middle">400</text>
<text x="1815.0" y="882" text-anchor="middle">450</text>
</g>
<g fill="none" stroke-width="6.5">
<line x1="1900.4" y1="152.6" x2="2083.6" y2="152.6" stroke="#000000" stroke-dasharray="6.5 7"/>
<line x1="1900.4" y1="267.2" x2="2081" y2="267.2" stroke="#00ff00" stroke-dasharray="18 12.2"/>
<line x1="1900.4" y1="381.8" x2="2083.6" y2="381.8" stroke="#6a00de" stroke-dasharray="31 17.5 10 16.5 10 17"/>
<line x1="1900.4" y1="479.6" x2="2083.6" y2="479.6" stroke="#1666dd" stroke-dasharray="11 28.8"/>
<line x1="1900.4" y1="576.8" x2="2083.6" y2="576.8" stroke="#f23c3c" stroke-dasharray="35 32"/>
<line x1="1900.4" y1="674.1" x2="2083.6" y2="674.1" stroke="#555555"/>
<line x1="1900.4" y1="771.8" x2="2083.6" y2="771.8" stroke="#2aa865" stroke-dasharray="41 17.5 9 17.5"/>
</g>
<g font-family="'Liberation Sans', Arial, Helvetica, sans-serif" font-size="79" fill="#000">
<text x="2102" y="178.9">HL<tspan font-size="54.5" dy="21.5">1</tspan></text>
<text x="2102" y="294">HL<tspan font-size="54.5" dy="21.5">2</tspan></text>
<text x="2102" y="409.3">Phen</text>
<text x="2102" y="506.7">1h</text>
<text x="2102" y="604">1p</text>
<text x="2102" y="702.4">2h</text>
<text x="2102" y="799.6">2p</text>
</g>
<text font-family="'Liberation Sans', Arial, Helvetica, sans-serif" font-size="80" x="1052" y="1831.5">Wavelength, nm</text>
<text font-family="'Liberation Sans', Arial, Helvetica, sans-serif" font-size="79.5" fill="#000" transform="translate(104.5,1367.5) rotate(-90)"><tspan x="0" y="0">Molar exctinction, ×10</tspan><tspan x="777" y="-33" font-size="54">5</tspan><tspan x="827.2" y="0">l</tspan><tspan x="866.5" y="0">cm</tspan><tspan x="972" y="-33" font-size="54">-1</tspan><tspan x="1041.4" y="0">mol</tspan><tspan x="1164" y="-33" font-size="54">-1</tspan></text>
</svg>
</body></html>
